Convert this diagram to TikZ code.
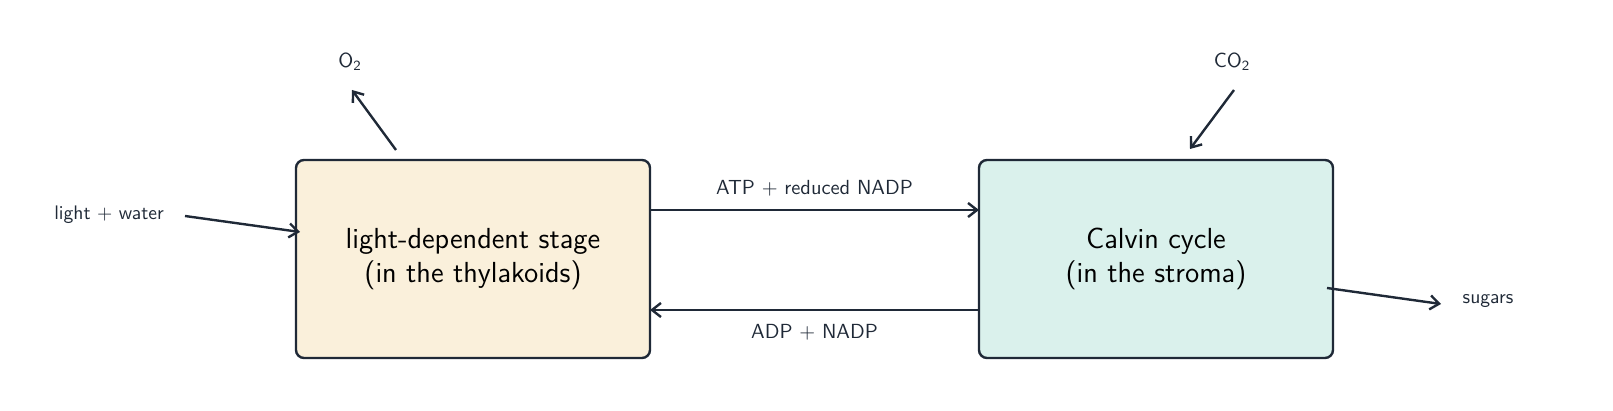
\documentclass[tikz,border=0pt]{standalone}
\usetikzlibrary{arrows.meta}
\definecolor{ink}{HTML}{1F2937}
\definecolor{fillA}{HTML}{FAF0DB}
\definecolor{fillB}{HTML}{DAF1EC}
\begin{document}
\begin{tikzpicture}[x=0.5pt,y=-0.5pt,font=\sffamily,
  stagebox/.style={draw=ink,line width=1.2pt,rounded corners=4pt,minimum width=177pt,minimum height=99pt,align=center,font=\sffamily\fontsize{14.5}{17}\selectfont,text=black},
  conn/.style={draw=ink,line width=1.2pt,-{Straight Barb[length=4.5pt,width=7pt,line width=1.2pt]}},
  lbl/.style={text=ink,font=\sffamily\fontsize{9.8}{11}\selectfont},
  elbl/.style={text=ink,font=\sffamily\fontsize{10.2}{12}\selectfont}]
\node[stagebox,fill=fillA] (L) at (473,259) {light-dependent stage\\(in the thylakoids)};
\node[stagebox,fill=fillB] (C) at (1156,259) {Calvin cycle\\(in the stroma)};
\coordinate (a1) at (650,210); \coordinate (a2) at (979,210);
\coordinate (b1) at (979,310); \coordinate (b2) at (650,310);
\draw[conn] (a1) -- node[elbl,above=3pt]{ATP + reduced NADP} (a2);
\draw[conn] (b1) -- node[elbl,below=3pt]{ADP + NADP} (b2);
\node[lbl] (lw) at (109,215) {light + water};
\coordinate (lwa) at (185,216); \coordinate (lwb) at (300,232);
\draw[conn] (lwa) -- (lwb);
\node[lbl] (sg) at (1488,301) {sugars};
\coordinate (sga) at (1327,288); \coordinate (sgb) at (1441,304);
\draw[conn] (sga) -- (sgb);
\node[elbl] (o2) at (350,62) {O$_{\mathsf{2}}$};
\coordinate (oa) at (396,150); \coordinate (ob) at (352,90);
\draw[conn] (oa) -- (ob);
\node[elbl] (co2) at (1232,62) {CO$_{\mathsf{2}}$};
\coordinate (ca) at (1234,90); \coordinate (cb) at (1190,149);
\draw[conn] (ca) -- (cb);
\pgfresetboundingbox
\path[use as bounding box] (0,0) rectangle (1613,411);
\end{tikzpicture}
\end{document}
